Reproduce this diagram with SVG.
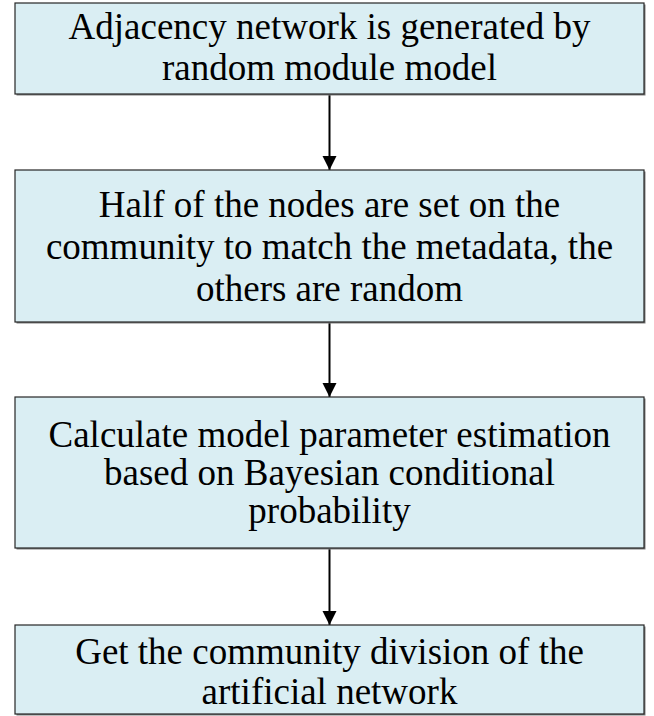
<svg xmlns="http://www.w3.org/2000/svg" width="654" height="716" viewBox="0 0 654 716">
  <defs>
    <style>
      .shadow { fill: #7f7f7f; }
      .box { fill: #DAEEF3; stroke: #262626; stroke-width: 1.2; }
      .lbl { font-size: 37px; fill: #000; text-anchor: middle; }
      .conn { stroke: #000; stroke-width: 2; fill: none; }
    </style>
    <marker id="arrow" markerWidth="14" markerHeight="18" viewBox="0 0 14 18" refX="14" refY="9" orient="auto" markerUnits="userSpaceOnUse">
      <path d="M0,2 L14,9 L0,16 Z" fill="#000"/>
    </marker>
  </defs>
  <rect width="654" height="716" fill="#fff"/>

  <g id="connectors">
    <line class="conn" x1="329.5" y1="94" x2="329.5" y2="170" marker-end="url(#arrow)"/>
    <line class="conn" x1="329.5" y1="322" x2="329.5" y2="397" marker-end="url(#arrow)"/>
    <line class="conn" x1="329.5" y1="548" x2="329.5" y2="625" marker-end="url(#arrow)"/>
  </g>

  <g font-family="Liberation Serif, Tinos, Times New Roman, DejaVu Serif, serif">
  <g id="node1">
    <rect class="shadow" x="16.5" y="4.5" width="629" height="91"/>
    <rect class="box" x="15" y="3" width="629" height="91"/>
    <text class="lbl" x="329.5" y="39">Adjacency network is generated by</text>
    <text class="lbl" x="329.5" y="80">random module model</text>
  </g>

  <g id="node2">
    <rect class="shadow" x="16.5" y="171.5" width="629" height="152"/>
    <rect class="box" x="15" y="170" width="629" height="152"/>
    <text class="lbl" x="329.5" y="217">Half of the nodes are set on the</text>
    <text class="lbl" x="329.5" y="259">community to match the metadata, the</text>
    <text class="lbl" x="329.5" y="301">others are random</text>
  </g>

  <g id="node3">
    <rect class="shadow" x="16.5" y="398.5" width="629" height="151"/>
    <rect class="box" x="15" y="397" width="629" height="151"/>
    <text class="lbl" x="329.5" y="447">Calculate model parameter estimation</text>
    <text class="lbl" x="329.5" y="485">based on Bayesian conditional</text>
    <text class="lbl" x="329.5" y="523">probability</text>
  </g>

  <g id="node4">
    <rect class="shadow" x="16.5" y="626.5" width="629" height="89"/>
    <rect class="box" x="15" y="625" width="629" height="89"/>
    <text class="lbl" x="329.5" y="664">Get the community division of the</text>
    <text class="lbl" x="329.5" y="704">artificial network</text>
  </g>
  </g>
</svg>
